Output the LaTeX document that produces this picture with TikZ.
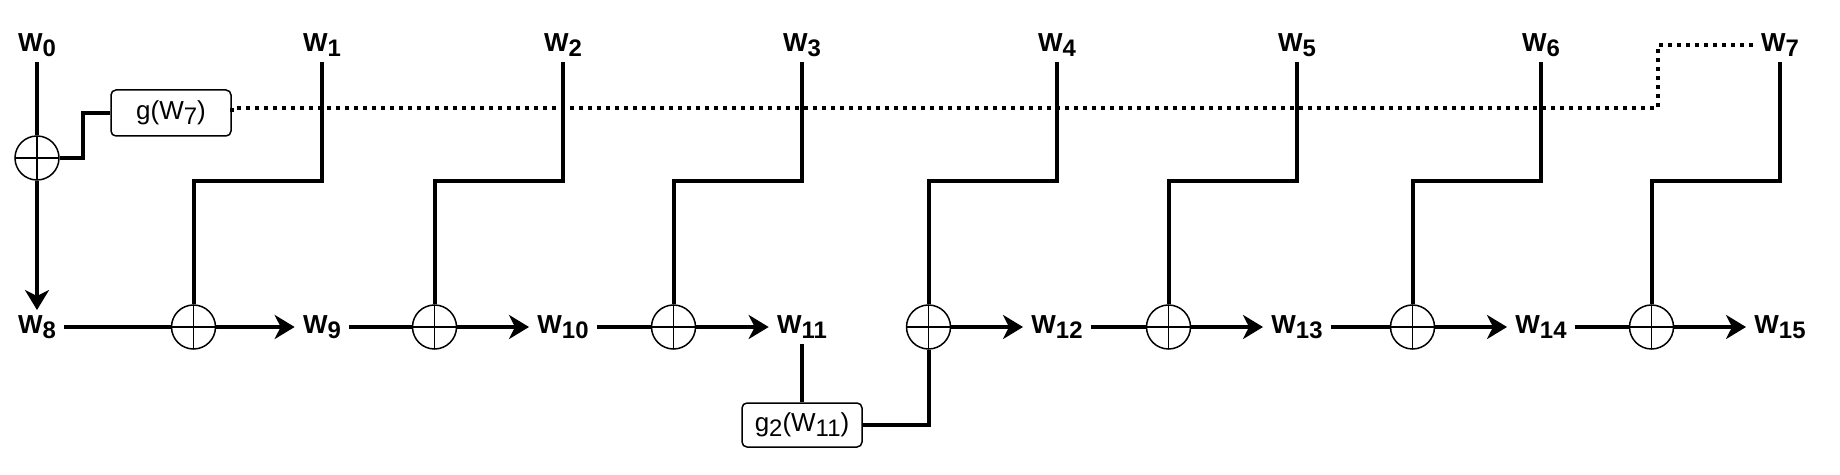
\documentclass[tikz,border=0pt]{standalone}
\usepackage{fontspec}
\setmainfont{Liberation Sans}
\usetikzlibrary{arrows.meta}

\newcommand{\wsub}[1]{\raisebox{-2.5pt}{\scalebox{0.92}{#1}}}

\tikzset{
  wlabel/.style={font=\fontsize{13pt}{15pt}\selectfont\bfseries, inner xsep=4pt, inner ysep=2.5pt},
  xorop/.style={circle, draw, line width=0.75pt, minimum size=22pt, inner sep=0pt,
    path picture={\draw[line width=0.75pt] (path picture bounding box.north) -- (path picture bounding box.south)
      (path picture bounding box.west) -- (path picture bounding box.east);}},
  gbox/.style={draw, rounded corners=2.5pt, line width=0.75pt, minimum width=60pt, font=\fontsize{13pt}{15pt}\selectfont},
  wire/.style={line width=2pt},
  link/.style={wire, -{Stealth[length=10pt,width=12pt,inset=3pt]}},
}

\begin{document}
\begin{tikzpicture}[x=0.5pt, y=-0.5pt]
        \useasboundingbox (0,0) rectangle (1840,475);
        % Mots W0..W7 (haut) et W8..W15 (bas)
        \foreach \x [count=\i from 0] in {37,322,563,802,1057,1297,1541,1780} {
          \pgfmathtruncatemacro{\j}{\i+8}
          \node[wlabel] (t\i) at (\x,45) {W\wsub{\i}};
          \node[wlabel] (w\j) at (\x,327) {W\wsub{\j}};
        }
        % Additions
        \node[xorop] (c0) at (37,158) {};
        \foreach \x [count=\i] in {193.5,434.5,673.5,928.5,1168.5,1412.5,1651.5}
          \node[xorop] (c\i) at (\x,327) {};
        % Fonctions g
        \node[gbox, minimum height=23pt] (gw7) at (171,113) {g(W\wsub{7})};
        \node[gbox, minimum height=22pt] (g2w11) at (802,425) {g\wsub{2}(W\wsub{11})};
        % Retour de W7 (pointillés)
        \coordinate (back) at (1658,108);
        \draw[wire, dash pattern=on 2pt off 2.5pt] (t7.west) -| (back) -| (gw7.east);
        % Colonne W0
        \draw[wire] (t0.south) -- (c0.north);
        \draw[link] (c0.south) -- (w8.north);
        \draw[wire] (c0.east) -- ++(23,0) |- (gw7.west);
        % Descentes W1..W7
        \coordinate (turn) at (0,181);
        \foreach \i in {1,...,7}
          \draw[wire] (t\i.south) -- (t\i |- turn) -| (c\i.north);
        % Ligne du bas
        \foreach \a/\c/\b in {8/1/9, 9/2/10, 10/3/11, 12/5/13, 13/6/14, 14/7/15} {
          \draw[wire] (w\a) -- (c\c);
          \draw[link] (c\c) -- (w\b);
        }
        \draw[link] (c4) -- (w12);
        % Passage par g2
        \draw[wire] (w11.south) -- (g2w11.north);
        \draw[wire] (g2w11.east) -| (c4.south);
\end{tikzpicture}
\end{document}
